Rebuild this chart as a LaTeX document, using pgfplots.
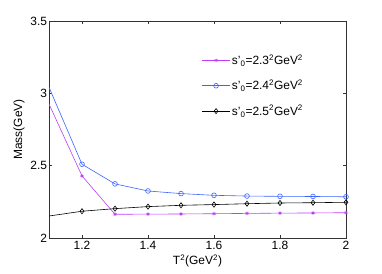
\documentclass[border=0pt]{standalone}
\usepackage{fontspec}
\setmainfont{Liberation Sans}
\usepackage{pgfplots}
\pgfplotsset{compat=1.18}
\definecolor{cmag}{RGB}{190,60,250}
\definecolor{cblue}{RGB}{60,100,255}
\makeatletter
\newcommand\legmark{\pgfuseplotmark{\tikz@plot@mark}}
\makeatother
\begin{document}
\begin{tikzpicture}
\begin{axis}[
  name=ax,
  scale only axis,
  width=297bp, height=217bp,
  xmin=1.1, xmax=2, ymin=2, ymax=3.5,
  xtick={1.2,1.4,1.6,1.8,2},
  ytick={2,2.5,3,3.5},
  xticklabels={1.2,1.4,1.6,1.8,2},
  yticklabels={2,2.5,3,3.5},
  tick align=inside,
  major tick length=3bp,
  tick style={black!80, line width=0.4pt},
  axis line style={black!80, line width=0.5pt},
  ticklabel style={font=\fontsize{12}{14}\selectfont},
  yticklabel style={xshift=1.5bp},
  xlabel={T\textsuperscript{2}(GeV\textsuperscript{2})},
  ylabel={Mass(GeV)},
  label style={font=\fontsize{12}{14}\selectfont},
  xlabel style={yshift=2bp},
  ylabel style={yshift=-1bp},
  legend style={draw=none, fill=none, at={(0.515,0.855)}, anchor=north west,
    font=\fontsize{12}{14}\selectfont, row sep=10bp, inner sep=0pt},
  legend image code/.code={\draw[mark=none] (0cm,0cm) -- (0.96cm,0cm);
    \begin{scope}[shift={(0.48cm,0cm)}]\legmark\end{scope}},
  legend cell align=left,
]
\addplot[cmag, line width=0.6pt, mark=asterisk, mark size=1.8pt, mark indices={2,3,4,5,6,7,8,9,10}] coordinates {
(1.1,2.926) (1.2,2.429) (1.3,2.164) (1.4,2.165) (1.5,2.166) (1.6,2.168) (1.7,2.170) (1.8,2.172) (1.9,2.173) (2.0,2.175)};
\addlegendentry{s'\textsubscript{0}=2.3\textsuperscript{2}GeV\textsuperscript{2}}
\addplot[cblue, line width=0.6pt, mark=o, mark size=2.4pt, mark indices={2,3,4,5,6,7,8,9,10}] coordinates {
(1.1,3.042) (1.2,2.510) (1.3,2.374) (1.4,2.325) (1.5,2.307) (1.6,2.295) (1.7,2.290) (1.8,2.288) (1.9,2.287) (2.0,2.285)};
\addlegendentry{s'\textsubscript{0}=2.4\textsuperscript{2}GeV\textsuperscript{2}}
\addplot[black, line width=0.6pt, mark=diamond, mark size=2.6pt, mark indices={2,3,4,5,6,7,8,9,10}] coordinates {
(1.1,2.152) (1.2,2.185) (1.3,2.203) (1.4,2.217) (1.5,2.226) (1.6,2.231) (1.7,2.237) (1.8,2.242) (1.9,2.244) (2.0,2.247)};
\addlegendentry{s'\textsubscript{0}=2.5\textsuperscript{2}GeV\textsuperscript{2}}
\end{axis}
\pgfresetboundingbox
\path[use as bounding box] ([shift={(-49bp,-35bp)}]ax.south west) rectangle ([shift={(36bp,21bp)}]ax.north east);
\end{tikzpicture}
\end{document}
